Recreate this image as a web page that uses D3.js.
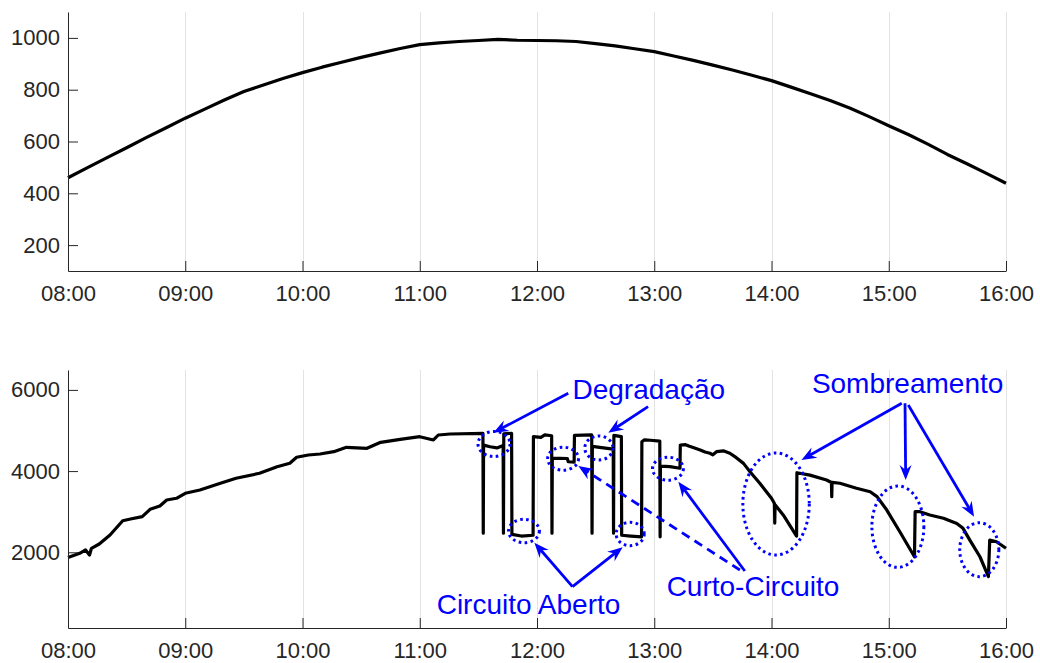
<!DOCTYPE html>
<html>
<head>
<meta charset="utf-8">
<script src="https://cdn.jsdelivr.net/npm/d3@7"></script>
<style>
  body { margin: 0; background: #fff; }
  svg { display: block; font-family: "Liberation Sans", Arial, Helvetica, sans-serif; }
  .axis text { font-size: 22px; fill: #262626; }
  .axis path, .axis line { stroke: #262626; }
  .note { font-size: 28px; fill: #0000ff; }
</style>
</head>
<body>
<svg id="chart" width="1040" height="663"></svg>
<script>
// ---- data ----
var xTicks = ["08:00", "09:00", "10:00", "11:00", "12:00", "13:00", "14:00", "15:00", "16:00"];
var irrTicks = [200, 400, 600, 800, 1000];
var powTicks = [2000, 4000, 6000];

// irradiance (top panel)
var irrTime = ["08:00","08:10","08:20","08:30","08:40","08:50","09:00","09:10","09:20","09:30",
  "09:40","09:50","10:00","10:10","10:20","10:30","10:40","10:50","11:00","11:10","11:20","11:30",
  "11:40","11:50","12:00","12:10","12:20","12:30","12:40","12:50","13:00","13:10","13:20","13:30",
  "13:40","13:50","14:00","14:10","14:20","14:30","14:40","14:50","15:00","15:10","15:20","15:30",
  "15:40","15:50","16:00"];
var irrValue = [460, 499, 538, 576, 615, 652, 690, 725, 760, 793,
  818, 843, 866, 887, 906, 925, 942, 959, 974, 981, 986, 990,
  994, 991, 990, 989, 986, 978, 969, 958, 947, 930, 913, 895,
  876, 856, 835, 810, 784, 758, 729, 696, 661, 627, 590, 550,
  514, 477, 439];

// power with faults (bottom panel)
var powTime = ["08:00:00","08:06:00","08:09:00","08:11:00","08:12:00","08:16:00","08:21:30","08:28:00",
  "08:32:00","08:38:00","08:42:00","08:47:00","08:50:30","08:55:30","09:00:00","09:07:30","09:18:00",
  "09:26:00","09:38:00","09:47:00","09:53:30","09:57:00","10:03:00","10:09:00","10:16:00","10:22:30",
  "10:33:00","10:40:00","10:50:00","11:00:00","11:07:00","11:09:30","11:15:30","11:32:20",
  "11:32:30","11:32:40","11:36:00","11:39:30","11:42:40","11:42:50","11:43:00","11:47:00","11:47:10",
  "11:52:00","11:58:00","11:58:10","12:02:00","12:04:00","12:07:30","12:07:40","12:07:50","12:15:30",
  "12:16:00","12:19:00","12:19:10","12:28:00","12:28:10","12:28:20","12:33:00","12:39:00","12:39:10",
  "12:39:20","12:43:10","12:43:20","12:48:00","12:53:30","12:53:40","12:55:00","12:58:00","13:02:50",
  "13:03:00","13:03:10","13:08:00","13:13:10","13:13:20",
  "13:16:00","13:18:00","13:21:00","13:23:30","13:26:00","13:28:30","13:30:00","13:32:00","13:35:20",
  "13:38:40","13:42:00","13:45:40","13:49:00","13:54:00","14:00:00","14:01:30","14:01:40","14:01:50",
  "14:06:00","14:12:50","14:13:00","14:19:40","14:28:10","14:30:40","14:30:50","14:31:00","14:35:00",
  "14:43:30","14:50:30","14:54:00","14:59:00","15:05:40","15:13:10","15:13:30","15:16:00","15:21:00",
  "15:28:00","15:34:50","15:38:00","15:41:30","15:46:40","15:51:00","15:51:40","15:55:10","16:00:00"];
var powValue = [1870, 1975, 2057, 1933, 2098, 2204, 2426, 2778,
  2820, 2877, 3059, 3140, 3288, 3330, 3453, 3534, 3700,
  3823, 3946, 4108, 4192, 4340, 4396, 4421, 4478, 4586,
  4561, 4709, 4783, 4847, 4766, 4889, 4914, 4930,
  2470, 4640, 4600, 4570, 4630, 2470, 4920, 4930, 2440,
  2400, 2420, 4850, 4830, 4890, 4870, 2470, 4320, 4310,
  4230, 4220, 4880, 4890, 2470, 4610, 4580, 4540, 2470,
  4880, 4850, 2420, 2400, 2380, 4720, 4770, 4760, 4740,
  2380, 4120, 4110, 4070, 4640,
  4650, 4610, 4560, 4520, 4470, 4440, 4400, 4480, 4500,
  4440, 4330, 4190, 3985, 3700, 3330, 3200, 2720, 3170,
  2920, 2400, 3960, 3900, 3780, 3720, 3370, 3720, 3700,
  3576, 3490, 3370, 3040, 2507, 1890, 3000, 3000, 2920,
  2840, 2710, 2590, 2300, 1890, 1400, 2300, 2260, 2100];

// annotations, in bottom-panel data units (time, W); radii in minutes and W
var ellipses = [
  {t: "11:38:00", v: 4667, rt: 8.2, rv: 308},
  {t: "12:31:40", v: 4569, rt: 7.2, rv: 296},
  {t: "12:13:20", v: 4305, rt: 7.9, rv: 283},
  {t: "13:07:00", v: 4059, rt: 7.9, rv: 283},
  {t: "11:53:20", v: 2525, rt: 7.9, rv: 288},
  {t: "12:47:40", v: 2451, rt: 7.2, rv: 288},
  {t: "14:02:20", v: 3190, rt: 17, rv: 1256},
  {t: "15:04:40", v: 2631, rt: 13.3, rv: 1002},
  {t: "15:46:20", v: 2064, rt: 10, rv: 665}
];
var arrows = [
  {from: ["12:16:00", 5916], to: ["11:37:40", 4946], dashed: false},
  {from: ["12:56:50", 5586], to: ["12:36:30", 4946], dashed: false},
  {from: ["12:18:10", 1153], to: ["11:58:40", 2236], dashed: false},
  {from: ["12:18:10", 1153], to: ["12:43:50", 2123], dashed: false},
  {from: ["13:46:20", 1539], to: ["13:12:20", 3739], dashed: false},
  {from: ["13:43:50", 1564], to: ["12:21:10", 4126], dashed: true},
  {from: ["15:06:40", 5670], to: ["14:15:20", 4273], dashed: false},
  {from: ["15:08:20", 5670], to: ["15:08:40", 3781], dashed: false},
  {from: ["15:10:00", 5628], to: ["15:43:40", 2877], dashed: false}
];
var notes = [
  {text: "Degradação", t: "12:18:10", v: 5765},
  {text: "Sombreamento", t: "14:20:40", v: 5916},
  {text: "Curto-Circuito", t: "13:06:20", v: 924},
  {text: "Circuito Aberto", t: "11:08:40", v: 473}
];

// ---- drawing ----
var parseFull = d3.timeParse("%H:%M:%S"), parseShort = d3.timeParse("%H:%M");
function parse(s) { return s.length > 5 ? parseFull(s) : parseShort(s); }

var svg = d3.select("#chart");
var x = d3.scaleTime().domain([parse("08:00"), parse("16:00")]).range([68, 1006]);

function panel(top, bottom, domain, ticks, times, values) {
  var y = d3.scaleLinear().domain(domain).range([bottom, top]);
  var g = svg.append("g");

  g.append("g").selectAll("line")
    .data(xTicks.map(parse))
    .enter().append("line")
    .attr("x1", function(d) { return Math.round(x(d)) + 0.5; })
    .attr("x2", function(d) { return Math.round(x(d)) + 0.5; })
    .attr("y1", top).attr("y2", bottom)
    .attr("stroke", "#e3e3e3").attr("stroke-width", 1);

  var pts = times.map(function(t, i) { return [parse(t), values[i]]; });
  g.append("path")
    .datum(pts)
    .attr("fill", "none")
    .attr("stroke", "#000")
    .attr("stroke-width", 3.2)
    .attr("stroke-linejoin", "round")
    .attr("d", d3.line().x(function(d) { return x(d[0]); }).y(function(d) { return y(d[1]); }));

  g.append("g")
    .attr("class", "axis")
    .attr("transform", "translate(0," + bottom + ")")
    .call(d3.axisBottom(x).tickValues(xTicks.map(parse)).tickFormat(d3.timeFormat("%H:%M"))
      .tickSizeInner(-10).tickSizeOuter(0).tickPadding(14));

  g.append("g")
    .attr("class", "axis")
    .attr("transform", "translate(68,0)")
    .call(d3.axisLeft(y).tickValues(ticks).tickFormat(d3.format("d"))
      .tickSizeInner(-10).tickSizeOuter(0).tickPadding(8));

  g.selectAll(".axis").attr("font-family", null).attr("font-size", null);
  return y;
}

panel(12, 271, [100, 1100], irrTicks, irrTime, irrValue);
var yB = panel(370, 628, [135, 6490], powTicks, powTime, powValue);

// annotations
var ann = svg.append("g");
var minute = 60000;

ann.selectAll("ellipse")
  .data(ellipses)
  .enter().append("ellipse")
  .attr("cx", function(d) { return x(parse(d.t)); })
  .attr("cy", function(d) { return yB(d.v); })
  .attr("rx", function(d) { return x(new Date(+parse(d.t) + d.rt * minute)) - x(parse(d.t)); })
  .attr("ry", function(d) { return yB(d.v - d.rv) - yB(d.v); })
  .attr("fill", "none")
  .attr("stroke", "#0000ff")
  .attr("stroke-width", 3)
  .attr("stroke-dasharray", "2.6,3.4");

arrows.forEach(function(a) {
  var x0 = x(parse(a.from[0])), y0 = yB(a.from[1]);
  var x1 = x(parse(a.to[0])), y1 = yB(a.to[1]);
  var dx = x1 - x0, dy = y1 - y0, len = Math.sqrt(dx * dx + dy * dy);
  var ux = dx / len, uy = dy / len, nx = -uy, ny = ux;
  var L = 15, W = 6, N = 10;
  ann.append("line")
    .attr("x1", x0).attr("y1", y0)
    .attr("x2", x1 - ux * N).attr("y2", y1 - uy * N)
    .attr("stroke", "#0000ff")
    .attr("stroke-width", 2.8)
    .attr("stroke-dasharray", a.dashed ? "9,6" : null);
  ann.append("path")
    .attr("d", "M" + x1 + "," + y1 +
      "L" + (x1 - ux * L + nx * W) + "," + (y1 - uy * L + ny * W) +
      "L" + (x1 - ux * N) + "," + (y1 - uy * N) +
      "L" + (x1 - ux * L - nx * W) + "," + (y1 - uy * L - ny * W) + "Z")
    .attr("fill", "#0000ff");
});

ann.selectAll("text")
  .data(notes)
  .enter().append("text")
  .attr("class", "note")
  .attr("x", function(d) { return x(parse(d.t)); })
  .attr("y", function(d) { return yB(d.v); })
  .text(function(d) { return d.text; });
</script>
</body>
</html>
